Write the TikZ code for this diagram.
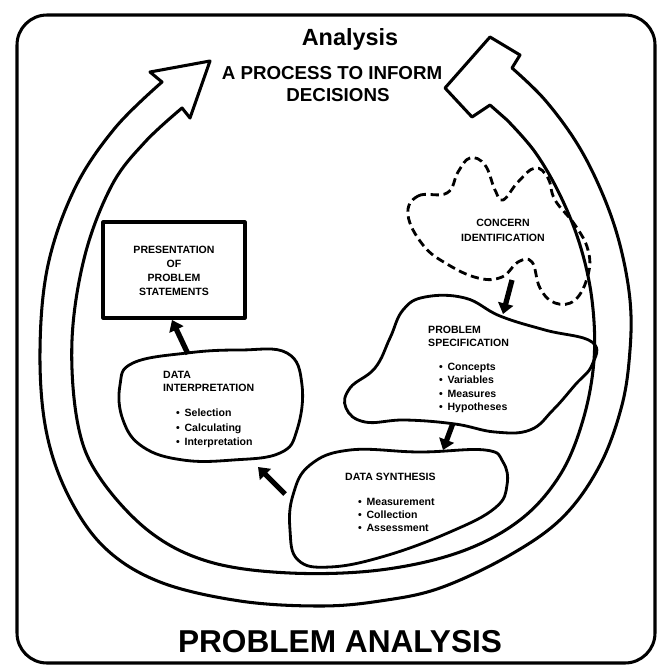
\documentclass[tikz,border=0pt]{standalone}
\usepackage{fontspec}
\setmainfont{Liberation Sans}
\usetikzlibrary{arrows.meta}

\begin{document}
\begin{tikzpicture}[x=0.03cm, y=-0.03cm, line join=round,
  outline/.style={line width=2.6pt},
  blob/.style={line width=2.4pt},
  heading/.style={font=\fontsize{9}{11}\selectfont\bfseries, align=left, inner sep=0pt, anchor=north west},
  items/.style={font=\fontsize{9}{11.3}\selectfont\bfseries, align=left, inner sep=0pt, anchor=north west},
  fat/.style={line width=4.5pt, -{Triangle[length=9pt, width=13pt]}}]
  \useasboundingbox (0,0) rectangle (658,672);

  % Frame and ring
  \draw[outline, rounded corners=0.9cm] (17,15) rectangle (655,663);
  \draw[outline] plot[smooth, tension=0.6] coordinates {(512,68) (545,100) (578,145) (603,195) (620,245) (630,300) (630,350) (622,405) (600,465) (563,517) (510,555) (440,588) (380,601) (320,606) (240,601) (160,582) (105,548) (68,495) (46,430) (40,350) (48,265) (75,188) (115,128) (162,82)}
    -- (150,72) -- (210,61) -- (190,118) -- (182,108)
    -- plot[smooth, tension=0.6] coordinates {(182,108) (145,142) (112,185) (85,255) (72,340) (78,425) (100,478) (150,532) (210,562) (290,573) (380,570) (460,552) (520,520) (560,475) (583,420) (594,360) (592,300) (580,245) (560,195) (535,152) (507,120)}
    -- (490,105) -- (472,117) -- (445,88) -- (490,37) -- (520,55) -- cycle;

  % Draw the regions.
  \draw[blob, dash pattern=on 7pt off 4pt] plot[smooth cycle, tension=0.7] coordinates {(408,215) (418,196) (447,193) (458,172) (470,158) (485,165) (495,190) (503,200) (518,182) (535,168) (548,178) (555,200) (575,225) (588,250) (588,275) (575,300) (555,303) (540,288) (532,262) (518,262) (502,277) (478,278) (447,264) (423,245)};
  \draw[blob] plot[smooth cycle, tension=0.7] coordinates {(425,297) (465,298) (500,316) (545,330) (592,342) (592,365) (575,385) (553,410) (530,430) (495,432) (455,424) (405,420) (365,422) (346,408) (350,388) (375,368) (390,338) (403,310)};
  \draw[blob] plot[smooth cycle, tension=0.7] coordinates {(350,450) (420,452) (485,450) (503,462) (507,485) (495,508) (450,532) (385,556) (330,567) (298,560) (290,530) (293,495) (310,465)};
  \draw[blob] plot[smooth cycle, tension=0.7] coordinates {(187,353) (240,350) (287,353) (302,385) (297,430) (280,453) (233,460) (183,460) (143,447) (123,420) (120,385) (133,363)};
  \draw[outline] (103,222) rectangle (245,318);

  % Texts
  \node[font=\fontsize{20}{24}\selectfont\bfseries, anchor=base, inner sep=0pt] (title) at (350,45) {Analysis};
  \node[font=\fontsize{16}{20}\selectfont\bfseries, anchor=base, inner sep=0pt] (sub1) at (332,79) {A PROCESS TO INFORM};
  \node[font=\fontsize{16}{20}\selectfont\bfseries, anchor=base, inner sep=0pt] (sub2) at (338,101) {DECISIONS};
  \node[heading, align=center, anchor=center, font=\fontsize{9}{12.8}\selectfont\bfseries] (concern) at (503,230) {CONCERN\\IDENTIFICATION};
  \node[heading] (spechead) at (428,326) {PROBLEM\\SPECIFICATION};
  \node[items] (speclist) at (439,363) {\textbullet\hspace{4pt}Concepts\\\textbullet\hspace{4pt}Variables\\\textbullet\hspace{4pt}Measures\\\textbullet\hspace{4pt}Hypotheses};
  \node[heading] (synthhead) at (345,473) {DATA SYNTHESIS};
  \node[items] (synthlist) at (358,498) {\textbullet\hspace{4pt}Measurement\\\textbullet\hspace{4pt}Collection\\\textbullet\hspace{4pt}Assessment};
  \node[heading] (interphead) at (163,371) {DATA\\INTERPRETATION};
  \node[items, font=\fontsize{9}{12.2}\selectfont\bfseries] (interplist) at (176,409) {\textbullet\hspace{4pt}Selection\\\textbullet\hspace{4pt}Calculating\\\textbullet\hspace{4pt}Interpretation};
  \node[heading, align=center, anchor=center, font=\fontsize{9}{11.8}\selectfont\bfseries] (present) at (174,271) {PRESENTATION\\OF\\PROBLEM\\STATEMENTS};
  \node[font=\fontsize{27}{32}\selectfont\bfseries, anchor=base, inner sep=0pt] (footer) at (340,652) {PROBLEM ANALYSIS};

  % Arrow ends
  \coordinate (cloudfoot) at (512,280);
  \coordinate (spectop) at (503,314);
  \coordinate (specfoot) at (453,423);
  \coordinate (synthtop) at (443,450);
  \coordinate (synthleft) at (285,494);
  \coordinate (interpright) at (258,467);
  \coordinate (interptop) at (188,354);
  \coordinate (presentfoot) at (172,320);

  % Connect regions with arrows
  \path (cloudfoot) edge [fat] (spectop);
  \path (specfoot) edge [fat] (synthtop);
  \path (synthleft) edge [fat] (interpright);
  \path (interptop) edge [fat] (presentfoot);
\end{tikzpicture}
\end{document}
